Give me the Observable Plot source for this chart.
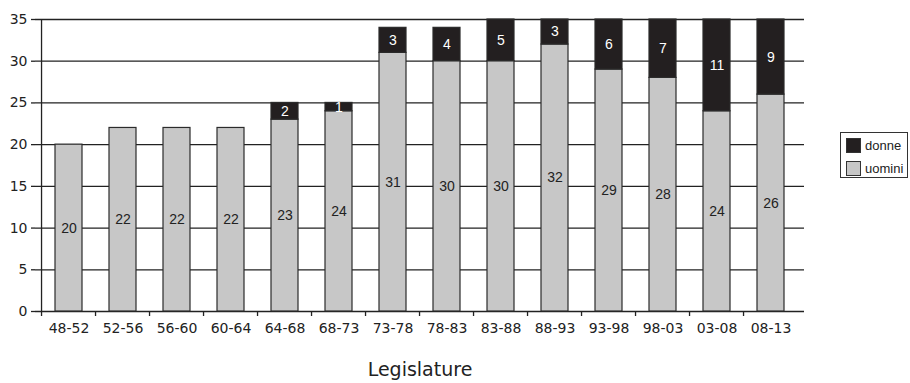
<!DOCTYPE html>
<html>
<head>
<meta charset="utf-8">
<script src="https://cdn.jsdelivr.net/npm/d3@7"></script>
<script src="https://cdn.jsdelivr.net/npm/@observablehq/plot@0.6"></script>
<style>
  html, body { margin: 0; padding: 0; background: #fff; }
  #chart { position: relative; width: 910px; height: 383px; }
  #chart svg { display: block; }
  .legend {
    position: absolute; left: 840px; top: 132px;
    width: 66px; height: 44px; border: 1px solid #333;
    font-family: "Liberation Sans", Arial, sans-serif; font-size: 13px; color: #222;
    white-space: nowrap;
  }
  .legend .row { display: flex; align-items: center; height: 15px; margin: 5px 0 0 5px; }
  .legend .row + .row { margin-top: 8px; }
  .legend .sw { width: 15px; height: 15px; box-sizing: border-box; border: 1px solid #333; margin-right: 4px; flex: none; }
</style>
</head>
<body>
<div id="chart"></div>
<script>
// Legislatures (years) and members per group
const legislature = ["48-52","52-56","56-60","60-64","64-68","68-73","73-78","78-83","83-88","88-93","93-98","98-03","03-08","08-13"];
const uomini = [20,22,22,22,23,24,31,30,30,32,29,28,24,26];
const donne  = [0,0,0,0,2,1,3,4,5,3,6,7,11,9];
const series = ["donne","uomini"];
const seriesColors = ["#231f20","#c7c7c7"];
const yTicks = [0,5,10,15,20,25,30,35];
const xTitle = "Legislature";

// Long table: men first so they sit at the bottom of each stack
const rows = [
  ...legislature.map((leg, i) => ({leg, sex: "uomini", value: uomini[i]})),
  ...legislature.map((leg, i) => ({leg, sex: "donne", value: donne[i]}))
].filter(d => d.value > 0);

const width = 910, height = 383;
const marginLeft = 35, marginRight = 106, marginTop = 19, marginBottom = 72;
const step = (width - marginLeft - marginRight) / legislature.length;
const ink = "#222";
const labelFont = "Liberation Sans, Arial, sans-serif";
const axisFont = "DejaVu Sans, sans-serif";

const stack = (extra) => Plot.stackY({x: "leg", y: "value", z: "sex", ...extra});

const chart = Plot.plot({
  width, height, marginLeft, marginRight, marginTop, marginBottom,
  style: {fontFamily: axisFont, fontSize: "14px", color: ink, background: "#fff"},
  x: {domain: legislature, paddingInner: 0.5, paddingOuter: 0.25},
  y: {domain: [0, 35]},
  color: {domain: series, range: seriesColors},
  marks: [
    Plot.gridY(yTicks, {stroke: ink, strokeOpacity: 1, strokeWidth: 1.3}),
    Plot.barY(rows, stack({fill: "sex", stroke: "#2b2b2b", strokeWidth: 1.2})),
    Plot.text(rows, stack({text: d => d.sex === "uomini" ? d.value : null, fill: ink, fontSize: 14, fontFamily: labelFont})),
    Plot.text(rows, stack({text: d => d.sex === "donne" ? d.value : null, fill: "white", fontSize: 14, fontFamily: labelFont})),
    // category labels centred under the bars
    Plot.axisX({tickSize: 0, tickPadding: 12, label: null, fontSize: 14, fontFamily: axisFont}),
    // tick marks on the boundaries between categories
    Plot.axisX({tickSize: 5, tickFormat: () => "", label: null, dx: -step / 2, strokeWidth: 1.3}),
    Plot.axisY({ticks: yTicks, tickSize: 4, tickPadding: 4, label: null, fontSize: 14, fontFamily: axisFont, strokeWidth: 1.3}),
    // vertical axis line along the left edge of the frame
    Plot.ruleX(legislature.slice(0, 1), {dx: -step / 2, stroke: ink, strokeWidth: 1.3}),
    Plot.text([xTitle], {frameAnchor: "bottom", dy: 64, fontSize: 19, fontFamily: axisFont, fill: ink})
  ]
});

const root = document.getElementById("chart");
root.appendChild(chart);

// Legend box at the right
const legend = document.createElement("div");
legend.className = "legend";
series.forEach((name, i) => {
  const row = document.createElement("div");
  row.className = "row";
  const sw = document.createElement("span");
  sw.className = "sw";
  sw.style.background = seriesColors[i];
  const lab = document.createElement("span");
  lab.textContent = name;
  row.append(sw, lab);
  legend.appendChild(row);
});
root.appendChild(legend);
</script>
</body>
</html>
